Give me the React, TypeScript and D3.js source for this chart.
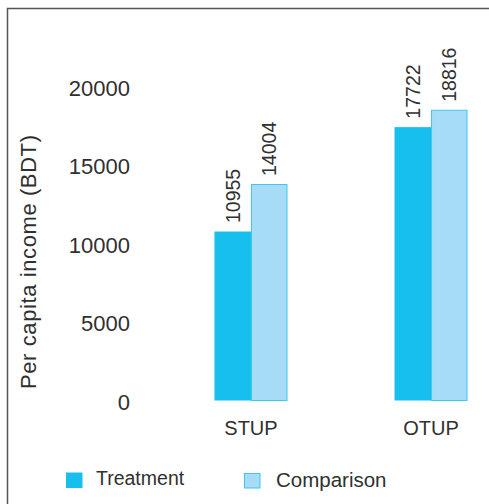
import React from "react";
import * as d3 from "d3";

const categories = ["STUP", "OTUP"];
const seriesNames = ["Treatment", "Comparison"];
const treatment = [10955, 17722];
const comparison = [14004, 18816];
const yTicks = [0, 5000, 10000, 15000, 20000];

const W = 489;
const H = 504;
const FONT = "'Liberation Sans', Arial, Helvetica, sans-serif";
const TEXT = "#303030";
const C_T = "#17bfef";
const C_C = "#a6dcf5";
const C_C_STROKE = "#3fc7f0";

export default function App() {
  const x0 = d3.scaleBand<string>().domain(categories).range([161, 521]).paddingInner(0.5944).paddingOuter(0.297);
  const x1 = d3.scaleBand<string>().domain(seriesNames).range([0, x0.bandwidth()]);
  const y = d3.scaleLinear().domain([0, 20000]).range([400.5, 92]);
  const yLabel = d3.scaleLinear().domain([0, 20000]).range([402, 88]);
  const values = [treatment, comparison];
  const fills = [C_T, C_C];
  const strokes = ["none", C_C_STROKE];

  return (
    <svg width={W} height={H} style={{ position: "absolute", left: 0, top: 0 }} fontFamily={FONT}>
      <rect x={0} y={0} width={W} height={H} fill="#fff" />
      <rect x={7.5} y={8.5} width={W + 20} height={H + 20} fill="none" stroke="#555" strokeWidth={1.5} />

      {yTicks.map((t) => (
        <text key={t} x={130} y={yLabel(t)} dy="0.36em" textAnchor="end" fontSize={22} fill={TEXT}>
          {t}
        </text>
      ))}

      <text
        transform={`translate(36, 262) rotate(-90)`}
        textAnchor="middle"
        fontSize={22}
        fill={TEXT}
        textLength={254}
        lengthAdjust="spacing"
      >
        Per capita income (BDT)
      </text>

      {categories.map((c, i) => (
        <g key={c} transform={`translate(${x0(c)},0)`}>
          {seriesNames.map((s, j) => {
            const v = values[j][i];
            const bx = x1(s)!;
            const bw = x1.bandwidth();
            const top = y(v);
            return (
              <g key={s}>
                <rect
                  x={bx + (j === 1 ? 0.5 : 0)}
                  y={top}
                  width={bw - (j === 1 ? 1 : 0)}
                  height={y(0) - top}
                  fill={fills[j]}
                  stroke={strokes[j]}
                  strokeWidth={1}
                />
                <text
                  transform={`translate(${bx + bw / 2}, ${top - 8.5}) rotate(-90)`}
                  dy="0.36em"
                  textAnchor="start"
                  fontSize={19.5}
                  fill={TEXT}
                >
                  {v}
                </text>
              </g>
            );
          })}
          <text x={x0.bandwidth() / 2} y={435} textAnchor="middle" fontSize={20} fill={TEXT}>
            {c}
          </text>
        </g>
      ))}

      <rect x={66} y={472.5} width={16.5} height={15.5} fill={C_T} />
      <text x={96} y={485} fontSize={19.5} fill={TEXT}>
        {seriesNames[0]}
      </text>
      <rect x={244.5} y={473.5} width={15.5} height={14.5} fill={C_C} stroke={C_C_STROKE} strokeWidth={1} />
      <text x={276} y={486.5} fontSize={20.5} fill={TEXT}>
        {seriesNames[1]}
      </text>
    </svg>
  );
}
